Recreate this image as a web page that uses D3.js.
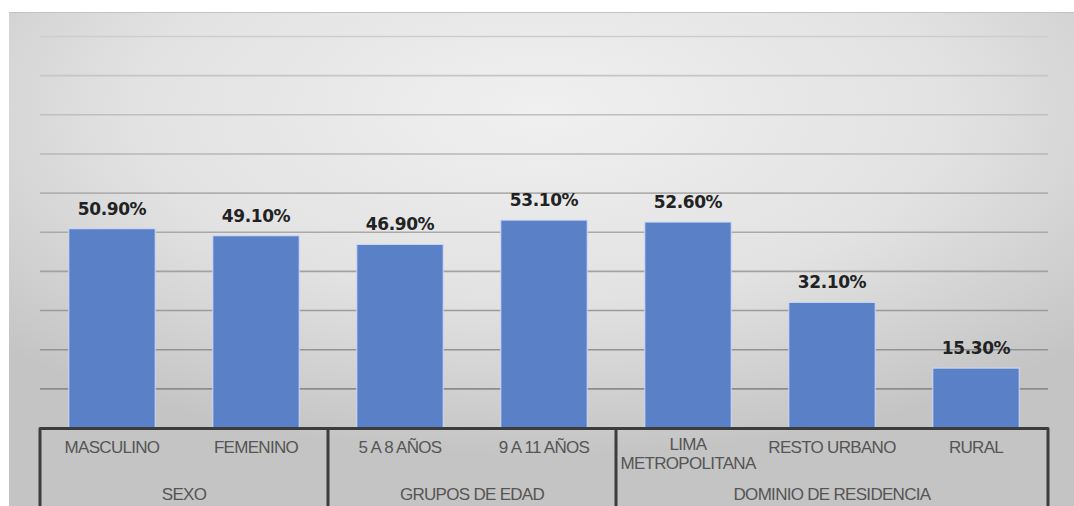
<!DOCTYPE html>
<html>
<head>
<meta charset="utf-8">
<script src="https://cdn.jsdelivr.net/npm/d3@7"></script>
<style>
  body { margin: 0; background: #fff; }
  .cat, .grp { font-family: "Liberation Sans", Arial, sans-serif; font-size: 17px; fill: #555; letter-spacing: -0.7px; }
  .val { font-family: "DejaVu Sans", Verdana, sans-serif; font-size: 17px; font-weight: bold; fill: #222; letter-spacing: -0.4px; }
</style>
</head>
<body>
<div id="chart"></div>
<script>
// Data
const categories = ["MASCULINO", "FEMENINO", "5 A 8 AÑOS", "9 A 11 AÑOS", "LIMA METROPOLITANA", "RESTO URBANO", "RURAL"]
const values = [50.9, 49.1, 46.9, 53.1, 52.6, 32.1, 15.3]
const groupNames = ["SEXO", "GRUPOS DE EDAD", "DOMINIO DE RESIDENCIA"]
const groupSizes = [2, 2, 3]
const yTicks = [10, 20, 30, 40, 50, 60, 70, 80, 90, 100]

function draw() {
  let dimensions = {
    width: 1074,
    height: 506,
    left: 40,
    right: 1048,
    top: 36.5,
    bottom: 428,
  }

  const svg = d3.select('#chart')
    .append('svg')
    .attr('width', dimensions.width)
    .attr('height', dimensions.height)

  // sfondo grigio sfumato
  const defs = svg.append('defs')
  const grad = defs.append('radialGradient')
    .attr('id', 'bg')
    .attr('cx', 0.5).attr('cy', 0.2).attr('r', 0.7)
  grad.append('stop').attr('offset', 0).attr('stop-color', '#f0f0f0')
  grad.append('stop').attr('offset', 0.55).attr('stop-color', '#e2e2e2')
  grad.append('stop').attr('offset', 1).attr('stop-color', '#c4c4c4')

  svg.append('rect')
    .attr('x', 9).attr('y', 12)
    .attr('width', dimensions.width - 9)
    .attr('height', dimensions.height - 12)
    .attr('fill', 'url(#bg)')
  svg.append('line')
    .attr('x1', 9).attr('x2', dimensions.width)
    .attr('y1', 12.5).attr('y2', 12.5)
    .attr('stroke', '#c2c2c2')

  // Scales
  const yScale = d3.scaleLinear()
    .domain([0, 100])
    .range([dimensions.bottom, dimensions.top])

  const xScale = d3.scaleBand()
    .domain(categories)
    .range([dimensions.left, dimensions.right])
    .paddingInner(0.4)
    .paddingOuter(0.2)

  const gridColor = d3.scaleLinear()
    .domain([10, 100])
    .range(['#8c8c8c', '#cdcdcd'])

  // Gridlines
  svg.append('g')
    .selectAll('line')
    .data(yTicks)
    .join('line')
    .attr('x1', dimensions.left)
    .attr('x2', dimensions.right)
    .attr('y1', d => yScale(d))
    .attr('y2', d => yScale(d))
    .attr('stroke', d => gridColor(d))
    .attr('stroke-width', 1.6)

  // Bars
  const data = categories.map((c, i) => ({ name: c, value: values[i] }))

  svg.append('g')
    .selectAll('rect')
    .data(data)
    .join('rect')
    .attr('x', d => xScale(d.name))
    .attr('y', d => yScale(d.value))
    .attr('width', xScale.bandwidth())
    .attr('height', d => dimensions.bottom - yScale(d.value))
    .attr('fill', '#5a80c8')
    .attr('stroke', '#cddcf3')
    .attr('stroke-width', 1)

  // Value labels
  svg.append('g')
    .selectAll('text')
    .data(data)
    .join('text')
    .classed('val', true)
    .attr('text-anchor', 'middle')
    .attr('x', d => xScale(d.name) + xScale.bandwidth() / 2)
    .attr('y', d => yScale(d.value) - 14)
    .text(d => d3.format('.2f')(d.value) + '%')

  // Category table
  const step = xScale.step()
  let bounds = [dimensions.left]
  groupSizes.forEach(n => bounds.push(bounds[bounds.length - 1] + n * step))

  const table = svg.append('g')
  table.append('path')
    .attr('d', `M${dimensions.left},${dimensions.height} V${dimensions.bottom + 0.5} H${dimensions.right} V${dimensions.height}`)
    .attr('fill', 'none')
    .attr('stroke', '#3c3c3c')
    .attr('stroke-width', 3)
    .attr('stroke-linejoin', 'round')

  table.selectAll('line')
    .data(bounds.slice(1, -1))
    .join('line')
    .attr('x1', d => d).attr('x2', d => d)
    .attr('y1', dimensions.bottom)
    .attr('y2', dimensions.height)
    .attr('stroke', '#3c3c3c')
    .attr('stroke-width', 3)

  const cats = table.append('g')
    .selectAll('text')
    .data(categories)
    .join('text')
    .classed('cat', true)
    .attr('text-anchor', 'middle')
    .attr('x', d => xScale(d) + xScale.bandwidth() / 2)
    .attr('y', 453)
    .text(d => d)

  // a capo se l'etichetta non entra nella colonna
  cats.each(function (d) {
    const t = d3.select(this)
    if (this.getComputedTextLength() > step - 6 && d.includes(' ')) {
      const cut = d.indexOf(' ')
      const x = t.attr('x')
      t.text(null)
      t.append('tspan').attr('x', x).attr('y', 450).text(d.slice(0, cut))
      t.append('tspan').attr('x', x).attr('y', 469).text(d.slice(cut + 1))
    }
  })

  table.append('g')
    .selectAll('text')
    .data(groupNames)
    .join('text')
    .classed('grp', true)
    .attr('text-anchor', 'middle')
    .attr('x', (d, i) => (bounds[i] + bounds[i + 1]) / 2)
    .attr('y', 499.5)
    .text(d => d)
}

draw()
</script>
</body>
</html>
